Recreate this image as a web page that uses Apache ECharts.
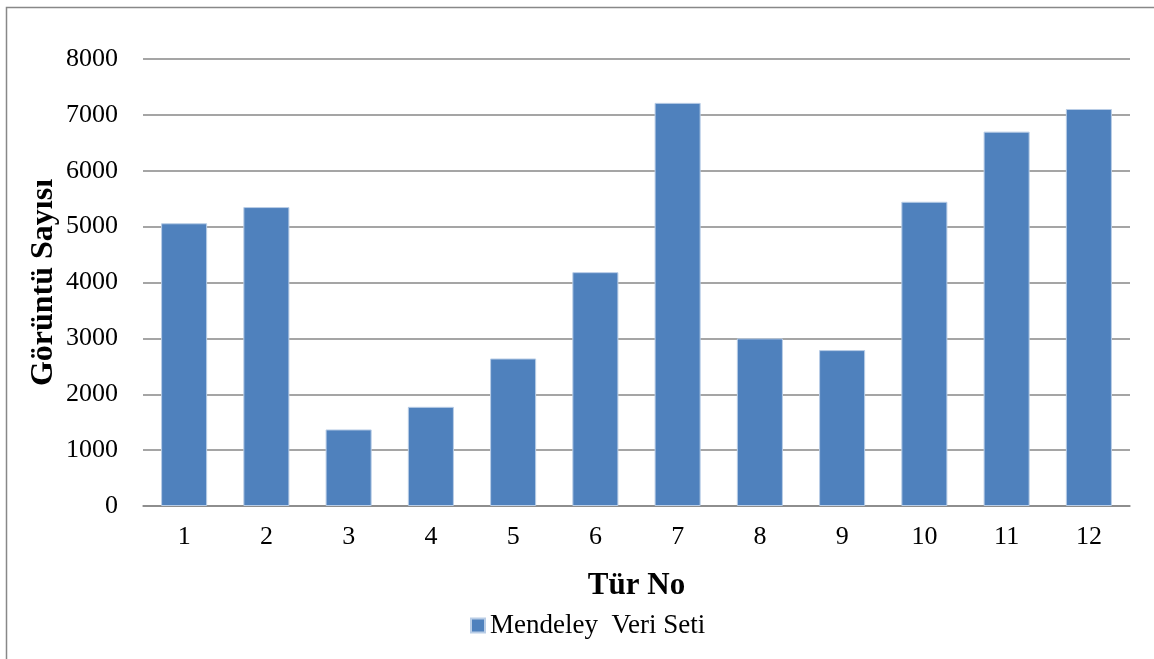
<!DOCTYPE html>
<html>
<head>
<meta charset="utf-8">
<script src="https://cdn.jsdelivr.net/npm/echarts@6/dist/echarts.min.js"></script>
<style>
html,body{margin:0;padding:0;background:#fff;}
#c{width:1154px;height:659px;}
</style>
</head>
<body>
<div id="c"></div>
<script>
const categories = ['1','2','3','4','5','6','7','8','9','10','11','12'];
const seriesName = 'Mendeley  Veri Seti';
const values = [5060, 5350, 1370, 1775, 2640, 4185, 7215, 3000, 2790, 5445, 6700, 7105];
const yAxisTitle = 'Görüntü Sayısı';
const xAxisTitle = 'Tür No';

const FONT = "'Liberation Serif', 'Times New Roman', serif";
const chart = echarts.init(document.getElementById('c'), null, {renderer: 'canvas'});
chart.setOption({
  backgroundColor: '#ffffff',
  animation: false,
  graphic: [{
    type: 'rect',
    shape: {x: 6.5, y: 7.5, width: 1300, height: 800},
    style: {fill: 'none', stroke: '#888888', lineWidth: 1.5},
    silent: true
  }],
  grid: {left: 143, right: 24, top: 59, bottom: 153},
  legend: {
    data: [seriesName],
    left: 470,
    top: 612,
    padding: 0,
    itemWidth: 14,
    itemHeight: 14,
    itemGap: 5,
    icon: 'rect',
    textStyle: {fontFamily: FONT, fontSize: 27, color: '#000'}
  },
  xAxis: {
    type: 'category',
    data: categories,
    name: xAxisTitle,
    nameLocation: 'middle',
    nameGap: 64,
    nameMoveOverlap: false,
    nameTextStyle: {fontFamily: FONT, fontSize: 31, fontWeight: 'bold', color: '#000'},
    axisLine: {show: true, lineStyle: {color: '#878787', width: 1.5}},
    axisTick: {show: false},
    axisLabel: {fontFamily: FONT, fontSize: 26, color: '#000', margin: 18}
  },
  yAxis: {
    type: 'value',
    min: 0,
    max: 8000,
    interval: 1000,
    name: yAxisTitle,
    nameLocation: 'middle',
    nameGap: 83,
    nameMoveOverlap: false,
    nameTextStyle: {fontFamily: FONT, fontSize: 32, fontWeight: 'bold', color: '#000'},
    axisLine: {show: false},
    axisTick: {show: false},
    axisLabel: {fontFamily: FONT, fontSize: 26, color: '#000', margin: 25, formatter: function (v) { return String(v); }},
    splitLine: {show: true, lineStyle: {color: '#878787', width: 1.5}}
  },
  series: [{
    name: seriesName,
    type: 'bar',
    data: values,
    barCategoryGap: '44%',
    itemStyle: {color: '#4F81BD', borderColor: '#b9cde6', borderWidth: 1}
  }]
});
</script>
</body>
</html>
